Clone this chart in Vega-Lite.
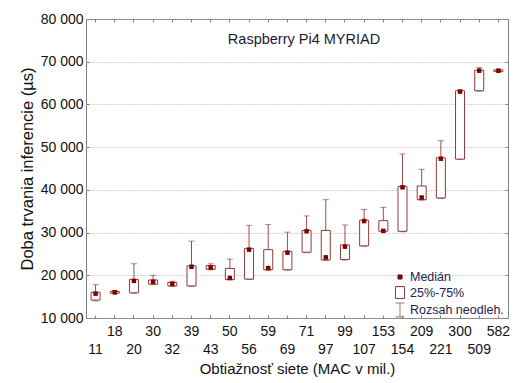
{
  "$schema": "https://vega.github.io/schema/vega-lite/v6.json",
  "width": 422,
  "height": 299,
  "autosize": {"type": "none"},
  "padding": {"left": 86, "top": 19, "right": 14, "bottom": 65},
  "background": "white",
  "title": {
    "text": "Raspberry Pi4 MYRIAD",
    "anchor": "middle",
    "frame": "group",
    "orient": "top",
    "baseline": "top",
    "offset": 0,
    "dx": 7,
    "dy": 35,
    "font": "Liberation Sans",
    "fontSize": 14.5,
    "fontWeight": "normal",
    "color": "#1a1a33"
  },
  "config": {
    "view": {"stroke": "#808080", "strokeWidth": 1},
    "font": "Liberation Sans",
    "axis": {
      "labelFont": "Liberation Sans",
      "titleFont": "Liberation Sans",
      "labelFontSize": 14,
      "titleFontSize": 15,
      "titleFontWeight": "normal",
      "labelColor": "#111111",
      "titleColor": "#111111",
      "tickColor": "#808080",
      "domain": false
    }
  },
  "data": {
    "values": [
      {"mac": 11, "min": 14000, "q1": 14200, "med": 15700, "q3": 16000, "max": 17800},
      {"mac": 18, "min": 15700, "q1": 15800, "med": 16000, "q3": 16200, "max": 16400},
      {"mac": 20, "min": 15800, "q1": 15900, "med": 18700, "q3": 19000, "max": 22700},
      {"mac": 30, "min": 17800, "q1": 17900, "med": 18500, "q3": 18900, "max": 20000},
      {"mac": 32, "min": 17400, "q1": 17500, "med": 18000, "q3": 18300, "max": 18600},
      {"mac": 39, "min": 17400, "q1": 17500, "med": 22000, "q3": 22200, "max": 28000},
      {"mac": 43, "min": 21300, "q1": 21400, "med": 21800, "q3": 22300, "max": 22700},
      {"mac": 50, "min": 18900, "q1": 19000, "med": 19400, "q3": 21600, "max": 23800},
      {"mac": 56, "min": 19000, "q1": 19100, "med": 26000, "q3": 26300, "max": 31700},
      {"mac": 59, "min": 21200, "q1": 21300, "med": 21700, "q3": 26000, "max": 31900},
      {"mac": 69, "min": 21200, "q1": 21300, "med": 25300, "q3": 25600, "max": 30100},
      {"mac": 71, "min": 25300, "q1": 25400, "med": 30300, "q3": 30500, "max": 33900},
      {"mac": 97, "min": 23500, "q1": 23600, "med": 24200, "q3": 30500, "max": 37700},
      {"mac": 99, "min": 23600, "q1": 23700, "med": 26700, "q3": 27100, "max": 31800},
      {"mac": 107, "min": 26800, "q1": 26900, "med": 32700, "q3": 32900, "max": 35400},
      {"mac": 153, "min": 30200, "q1": 30300, "med": 30400, "q3": 32800, "max": 35900},
      {"mac": 154, "min": 30200, "q1": 30300, "med": 40600, "q3": 40800, "max": 48400},
      {"mac": 209, "min": 37600, "q1": 37700, "med": 38200, "q3": 40900, "max": 44800},
      {"mac": 221, "min": 38000, "q1": 38100, "med": 47300, "q3": 47500, "max": 51500},
      {"mac": 300, "min": 47100, "q1": 47200, "med": 63000, "q3": 63200, "max": 63400},
      {"mac": 509, "min": 63100, "q1": 63200, "med": 67900, "q3": 68000, "max": 68600},
      {"mac": 582, "min": 67600, "q1": 67700, "med": 67900, "q3": 68100, "max": 68200}
    ]
  },
  "layer": [
    {
      "mark": {"type": "rule", "color": "#9b4d4d", "strokeWidth": 1},
      "encoding": {
        "x": {
          "field": "mac",
          "type": "ordinal",
          "scale": {"type": "band", "paddingInner": 0, "paddingOuter": 0},
          "axis": {
            "title": "Obtiažnosť siete (MAC v mil.)",
            "labelAngle": 0,
            "labelExpr": "indexof([18,30,39,50,59,71,99,153,209,300,582], datum.value) >= 0 ? datum.label : ['', datum.label]",
            "labelLineHeight": 17.6,
            "labelPadding": 9.5,
            "tickSize": -3,
            "titlePadding": 5,
            "grid": false
          }
        },
        "y": {
          "field": "min",
          "type": "quantitative",
          "scale": {"domain": [10000, 80000], "nice": false, "zero": false},
          "axis": {
            "title": "Doba trvania inferencie (µs)",
            "titleFontSize": 16.5,
            "values": [10000, 20000, 30000, 40000, 50000, 60000, 70000, 80000],
            "labelExpr": "replace(format(datum.value, ','), ',', ' ')",
            "grid": true,
            "gridDash": [1, 2],
            "gridColor": "#a8a8a8",
            "tickSize": -3,
            "labelPadding": 6,
            "titlePadding": 5
          }
        },
        "y2": {"field": "max"}
      }
    },
    {
      "mark": {"type": "tick", "color": "#9b4d4d", "size": 6, "thickness": 1, "orient": "horizontal"},
      "encoding": {
        "x": {
          "field": "mac",
          "type": "ordinal",
          "axis": {"orient": "top", "labels": false, "title": null, "grid": false, "tickSize": -3}
        },
        "y": {
          "field": "max",
          "type": "quantitative",
          "scale": {"domain": [10000, 80000], "nice": false, "zero": false},
          "axis": {
            "orient": "right",
            "labels": false,
            "title": null,
            "grid": false,
            "tickSize": -3,
            "values": [10000, 20000, 30000, 40000, 50000, 60000, 70000, 80000]
          }
        }
      }
    },
    {
      "mark": {"type": "tick", "color": "#9b4d4d", "size": 6, "thickness": 1, "orient": "horizontal"},
      "encoding": {
        "x": {"field": "mac", "type": "ordinal", "axis": null},
        "y": {"field": "min", "type": "quantitative", "scale": {"domain": [10000, 80000], "nice": false, "zero": false}, "axis": null}
      }
    },
    {
      "mark": {"type": "bar", "size": 9, "fill": "white", "stroke": "#8c3c3c", "strokeWidth": 1},
      "encoding": {
        "x": {"field": "mac", "type": "ordinal", "axis": null},
        "y": {"field": "q1", "type": "quantitative", "scale": {"domain": [10000, 80000], "nice": false, "zero": false}, "axis": null},
        "y2": {"field": "q3"}
      }
    },
    {
      "mark": {"type": "point", "shape": "square", "filled": true, "size": 20, "color": "#800000", "opacity": 1},
      "encoding": {
        "x": {"field": "mac", "type": "ordinal", "axis": null},
        "y": {"field": "med", "type": "quantitative", "scale": {"domain": [10000, 80000], "nice": false, "zero": false}, "axis": null}
      }
    },
    {
      "data": {
        "values": [
          {"item": "Medián", "mac": 11, "v": 0},
          {"item": "25%-75%", "mac": 11, "v": 0},
          {"item": "Rozsah neodleh.", "mac": 11, "v": 0}
        ]
      },
      "mark": {"type": "point", "clip": true, "size": 225, "strokeWidth": 1, "opacity": 1},
      "encoding": {
        "x": {"field": "mac", "type": "ordinal", "axis": null},
        "y": {"field": "v", "type": "quantitative", "scale": {"domain": [10000, 80000], "nice": false, "zero": false}, "axis": null},
        "shape": {
          "field": "item",
          "type": "nominal",
          "scale": {
            "domain": ["Medián", "25%-75%", "Rozsah neodleh."],
            "range": ["M-0.27,-0.27H0.27V0.27H-0.27Z", "M-0.6,-0.8H0.6V0.8H-0.6Z", "M-0.6,-0.93H0.6M0,-0.93V0.93M-0.6,0.93H0.6"]
          },
          "legend": {"title": null, "orient": "none", "legendX": 306, "legendY": 250, "padding": 0, "rowPadding": 0.5, "labelOffset": 2, "symbolSize": 225, "symbolStrokeWidth": 1, "labelFont": "Liberation Sans", "labelFontSize": 12.5, "labelColor": "#22224d"}
        },
        "fill": {
          "field": "item",
          "type": "nominal",
          "scale": {"domain": ["Medián", "25%-75%", "Rozsah neodleh."], "range": ["#800000", "transparent", "transparent"]},
          "legend": {"title": null, "orient": "none", "legendX": 306, "legendY": 250, "padding": 0, "rowPadding": 0.5, "labelOffset": 2, "symbolSize": 225, "symbolStrokeWidth": 1, "labelFont": "Liberation Sans", "labelFontSize": 12.5, "labelColor": "#22224d"}
        },
        "stroke": {
          "field": "item",
          "type": "nominal",
          "scale": {"domain": ["Medián", "25%-75%", "Rozsah neodleh."], "range": ["#800000", "#8c3c3c", "#b07070"]},
          "legend": {"title": null, "orient": "none", "legendX": 306, "legendY": 250, "padding": 0, "rowPadding": 0.5, "labelOffset": 2, "symbolSize": 225, "symbolStrokeWidth": 1, "labelFont": "Liberation Sans", "labelFontSize": 12.5, "labelColor": "#22224d"}
        }
      }
    }
  ],
  "resolve": {"axis": {"x": "independent", "y": "independent"}}
}
